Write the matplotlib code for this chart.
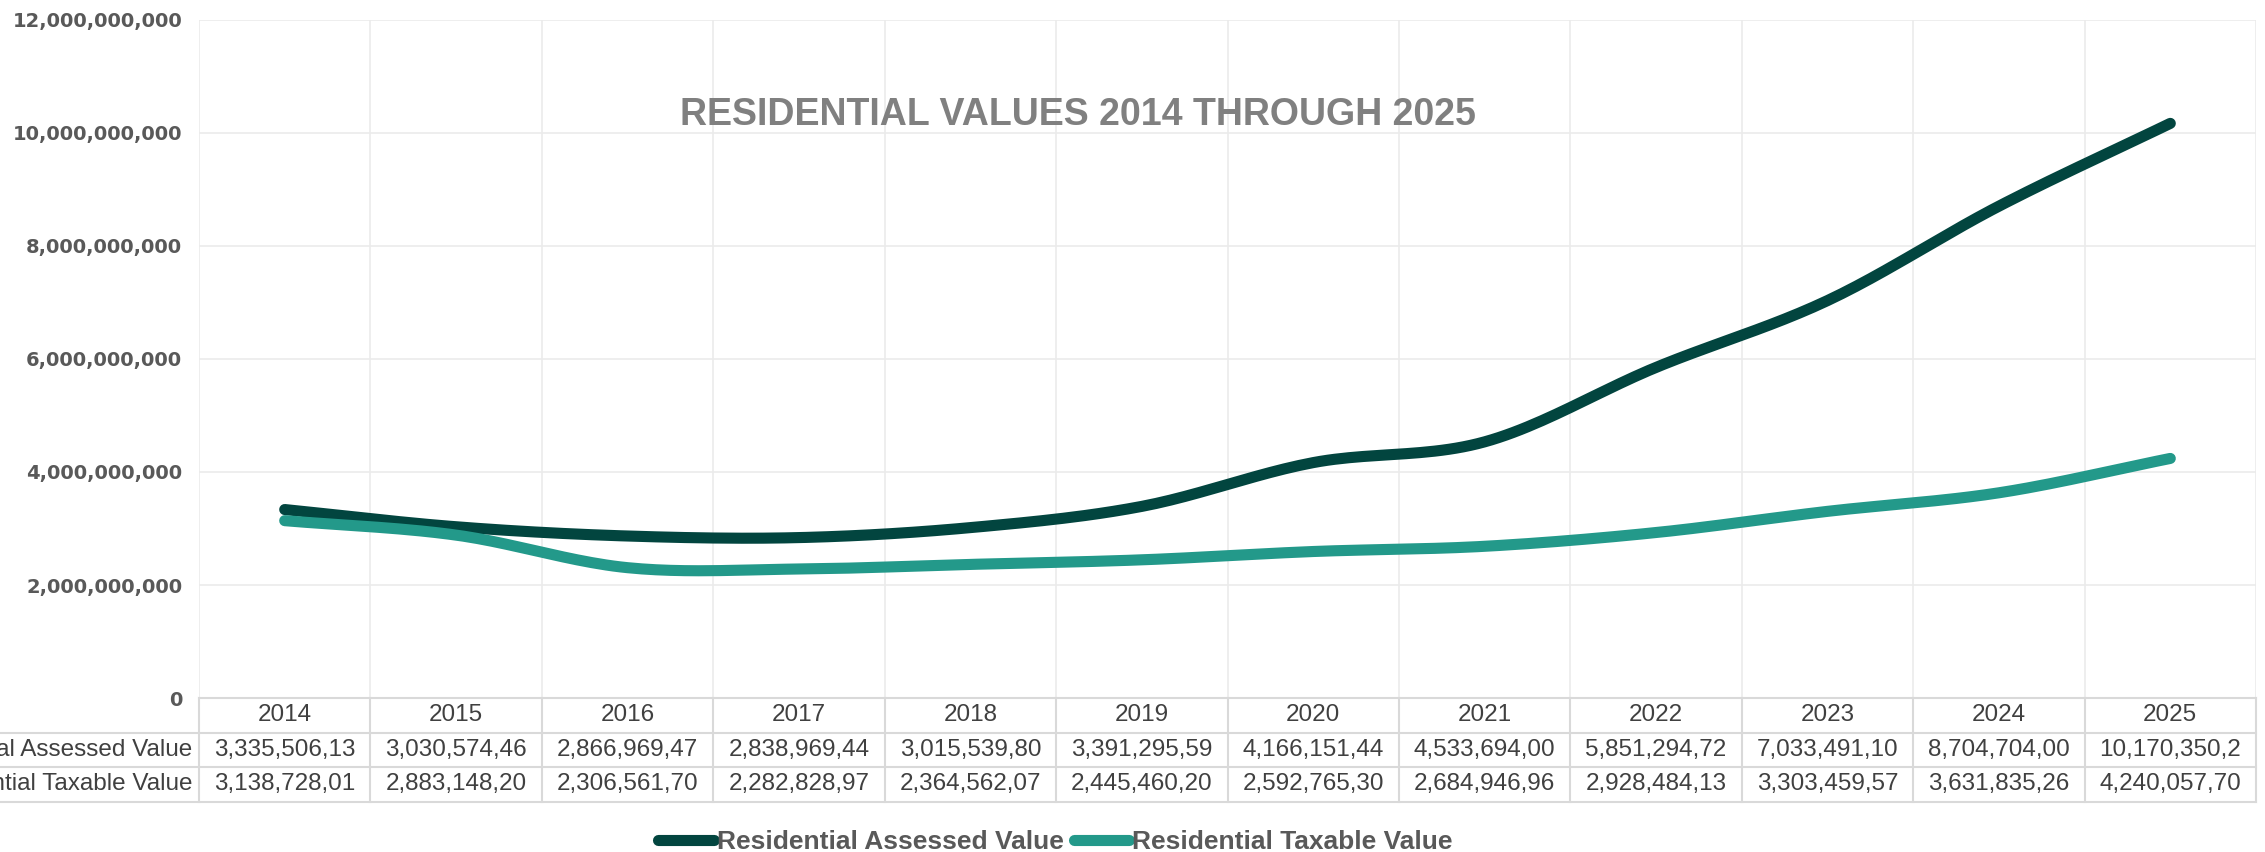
import matplotlib.pyplot as plt
import matplotlib.transforms as mtransforms
import numpy as np
from matplotlib import font_manager

years = ['2014', '2015', '2016', '2017', '2018', '2019', '2020', '2021', '2022', '2023', '2024', '2025']
assessed = [3335506130, 3030574460, 2866969470, 2838969440, 3015539800, 3391295590,
            4166151440, 4533694000, 5851294720, 7033491100, 8704704000, 10170350200]
taxable = [3138728010, 2883148200, 2306561700, 2282828970, 2364562070, 2445460200,
           2592765300, 2684946960, 2928484130, 3303459570, 3631835260, 4240057700]
series_names = ['Residential Assessed Value', 'Residential Taxable Value']
colors = ['#02453f', '#23998a']
yticks = [0, 2e9, 4e9, 6e9, 8e9, 10e9, 12e9]

names = {f.name for f in font_manager.fontManager.ttflist}
narrow = 'Liberation Sans Narrow' if 'Liberation Sans Narrow' in names else 'Liberation Sans'


def smooth(x, y, n=24):
    # catmull-rom, roughly what excel does for smoothed lines
    x = np.asarray(x, float)
    y = np.asarray(y, float)
    px = np.concatenate([[2 * x[0] - x[1]], x, [2 * x[-1] - x[-2]]])
    py = np.concatenate([[2 * y[0] - y[1]], y, [2 * y[-1] - y[-2]]])
    xs, ys = [], []
    t = np.linspace(0, 1, n, endpoint=False)
    for i in range(1, len(px) - 2):
        for p, out in ((px, xs), (py, ys)):
            p0, p1, p2, p3 = p[i - 1], p[i], p[i + 1], p[i + 2]
            out.extend(0.5 * (2 * p1 + (-p0 + p2) * t + (2 * p0 - 5 * p1 + 4 * p2 - p3) * t ** 2
                              + (-p0 + 3 * p1 - 3 * p2 + p3) * t ** 3))
    xs.append(x[-1])
    ys.append(y[-1])
    return np.array(xs), np.array(ys)


fig = plt.figure(figsize=(22.65, 8.52), dpi=100)
ax_right = 2256 / 2265
ax = fig.add_axes([199 / 2265, 154 / 852, ax_right - 199 / 2265, 678 / 852])

xi = np.arange(len(years))
for vals, name, c in zip([assessed, taxable], series_names, colors):
    sx, sy = smooth(xi, vals)
    ax.plot(sx, sy, color=c, lw=8, solid_capstyle='round', label=name, zorder=3)

ax.set_xlim(-0.5, len(years) - 0.5)
ax.set_ylim(0, 12e9)
ax.set_yticks(yticks)
ax.set_yticklabels([f'{int(v):,}' for v in yticks], fontweight='bold', fontsize=14,
                   color='#595959', family='DejaVu Sans')
ax.tick_params(axis='y', length=0, pad=12)
ax.set_xticks([])
ax.set_xticks(np.arange(-0.5, len(years)), minor=True)
ax.tick_params(axis='x', which='both', length=0)
ax.grid(axis='y', color='#ebebeb', lw=1.2)
ax.grid(axis='x', which='minor', color='#ebebeb', lw=1.2)
for s in ax.spines.values():
    s.set_visible(False)

ax.text(4.63, 10.31e9, 'RESIDENTIAL VALUES 2014 THROUGH 2025', ha='center', va='center',
        fontsize=27, fontweight='bold', color='#808080', family=narrow)

# data table under the axis
rh = 34.5 / 678
tr = ax.get_xaxis_transform()
tf = mtransforms.blended_transform_factory(fig.transFigure, ax.transAxes)
lc = '#d9d9d9'
for k in range(4):
    x0 = 0 if k > 0 else 199 / 2265
    ax.plot([x0, ax_right], [-k * rh, -k * rh], transform=tf, color=lc, lw=1.5, clip_on=False)
for b in np.arange(-0.5, len(years) + 0.5):
    ax.plot([b, b], [0, -3 * rh], transform=tr, color=lc, lw=1.5, clip_on=False)

tfs = 17.5
for i, yr in enumerate(years):
    ax.text(i, -0.5 * rh, yr, transform=tr, ha='center', va='center', fontsize=tfs,
            color='#404040', family=narrow)
for r, (vals, name) in enumerate(zip([assessed, taxable], series_names)):
    yc = -(r + 1.5) * rh
    ax.text(-0.54, yc, name, transform=tr, ha='right', va='center', fontsize=tfs,
            color='#404040', family=narrow)
    for i, v in enumerate(vals):
        ax.text(i, yc, f'{v:,}'[:12], transform=tr, ha='center', va='center', fontsize=tfs,
                color='#404040', family=narrow)

leg = fig.legend(loc='center', bbox_to_anchor=(0.466, 0.012), ncol=2, frameon=False,
                 handlelength=2.1, handletextpad=0.1, columnspacing=0.4,
                 prop={'family': narrow, 'weight': 'bold', 'size': 19})
for t in leg.get_texts():
    t.set_color('#595959')

fig.savefig('out.png', dpi=100)
